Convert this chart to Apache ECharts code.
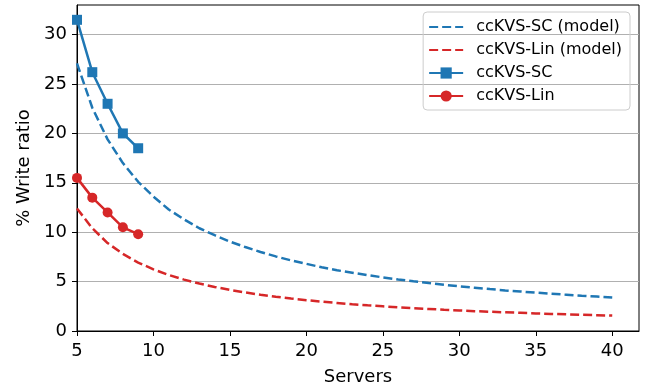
<!DOCTYPE html>
<html>
<head>
<meta charset="utf-8">
<script src="https://cdn.jsdelivr.net/npm/echarts@6/dist/echarts.min.js"></script>
<style>
    html, body {margin: 0; padding: 0; background: #fff;}
    #chart {width: 657px; height: 391px;}
</style>
</head>
<body>
<div id="chart"></div>
<script>
// measured points
var servers = [5, 6, 7, 8, 9];
var scMeasured = [31.5, 26.2, 23.0, 20.0, 18.5];
var linMeasured = [15.5, 13.5, 12.0, 10.5, 9.8];

// model curves, read at every server count 5..40
var modelServers = [5, 6, 7, 8, 9, 10, 11, 12, 13, 14, 15, 16, 17, 18, 19, 20, 21, 22,
    23, 24, 25, 26, 27, 28, 29, 30, 31, 32, 33, 34, 35, 36, 37, 38, 39, 40];
var scModel = [27.1, 22.6, 19.4, 17.0, 15.1, 13.6, 12.3, 11.3, 10.4, 9.7, 9.05, 8.5, 8.0,
    7.55, 7.15, 6.8, 6.45, 6.15, 5.9, 5.65, 5.43, 5.22, 5.03, 4.85, 4.68, 4.52, 4.38, 4.24,
    4.11, 4.0, 3.88, 3.77, 3.67, 3.57, 3.48, 3.39];
var linModel = [12.4, 10.4, 8.9, 7.8, 6.93, 6.24, 5.67, 5.2, 4.8, 4.46, 4.16, 3.9, 3.67,
    3.47, 3.28, 3.12, 2.97, 2.84, 2.71, 2.6, 2.5, 2.4, 2.31, 2.23, 2.15, 2.08, 2.01, 1.95,
    1.89, 1.84, 1.78, 1.73, 1.69, 1.64, 1.6, 1.56];

var xTicks = [5, 10, 15, 20, 25, 30, 35, 40];
var yTicks = [0, 5, 10, 15, 20, 25, 30];

function pairs(xs, ys) {
    return xs.map(function (x, i) { return [x, ys[i]]; });
}

var blue = '#1f77b4';
var red = '#d62728';
var font = 'DejaVu Sans';

var myChart = echarts.init(document.getElementById('chart'));
var option = {
    animation: false,
    textStyle: {fontFamily: font},
    grid: {
        left: 77, right: 18, top: 5, bottom: 58,
        show: true, borderColor: '#000', borderWidth: 1
    },
    legend: {
        orient: 'vertical',
        right: 27,
        top: 12,
        padding: [7, 8, 6, 5],
        itemGap: 7,
        itemWidth: 34,
        itemHeight: 14,
        borderColor: '#ccc',
        borderWidth: 1,
        borderRadius: 4,
        textStyle: {fontFamily: font, fontSize: 16, color: '#000', padding: [0, 0, 0, 8]},
        data: [
            {name: 'ccKVS-SC (model)', itemStyle: {opacity: 0}},
            {name: 'ccKVS-Lin (model)', itemStyle: {opacity: 0}},
            'ccKVS-SC',
            'ccKVS-Lin'
        ]
    },
    xAxis: {
        type: 'value',
        min: 5,
        max: 41.75,
        name: 'Servers',
        nameLocation: 'middle',
        nameGap: 37,
        nameTextStyle: {fontSize: 18, color: '#000', fontFamily: font},
        axisLine: {lineStyle: {color: '#000', width: 1}},
        axisTick: {show: true, length: 5, lineStyle: {color: '#000'}, customValues: xTicks},
        axisLabel: {fontSize: 18, color: '#000', margin: 11, customValues: xTicks},
        splitLine: {show: false}
    },
    yAxis: {
        type: 'value',
        min: 0,
        max: 33,
        interval: 5,
        name: '% Write ratio',
        nameLocation: 'middle',
        nameGap: 40,
        nameTextStyle: {fontSize: 18, color: '#000', fontFamily: font},
        axisLine: {show: true, lineStyle: {color: '#000', width: 1}},
        axisTick: {show: true, length: 5, lineStyle: {color: '#000'}, customValues: yTicks},
        axisLabel: {fontSize: 18, color: '#000', margin: 10, customValues: yTicks},
        splitLine: {show: true, lineStyle: {color: '#b0b0b0', width: 1}}
    },
    series: [
        {
            name: 'ccKVS-SC (model)',
            type: 'line',
            showSymbol: false,
            data: pairs(modelServers, scModel),
            lineStyle: {color: blue, width: 2.5, type: [9, 4]},
            itemStyle: {color: blue}
        },
        {
            name: 'ccKVS-Lin (model)',
            type: 'line',
            showSymbol: false,
            data: pairs(modelServers, linModel),
            lineStyle: {color: red, width: 2.5, type: [9, 4]},
            itemStyle: {color: red}
        },
        {
            name: 'ccKVS-SC',
            type: 'line',
            symbol: 'rect',
            symbolSize: 10,
            data: pairs(servers, scMeasured),
            lineStyle: {color: blue, width: 2.5},
            itemStyle: {color: blue}
        },
        {
            name: 'ccKVS-Lin',
            type: 'line',
            symbol: 'circle',
            symbolSize: 10,
            data: pairs(servers, linMeasured),
            lineStyle: {color: red, width: 2.5},
            itemStyle: {color: red}
        }
    ]
};
myChart.setOption(option);
</script>
</body>
</html>
